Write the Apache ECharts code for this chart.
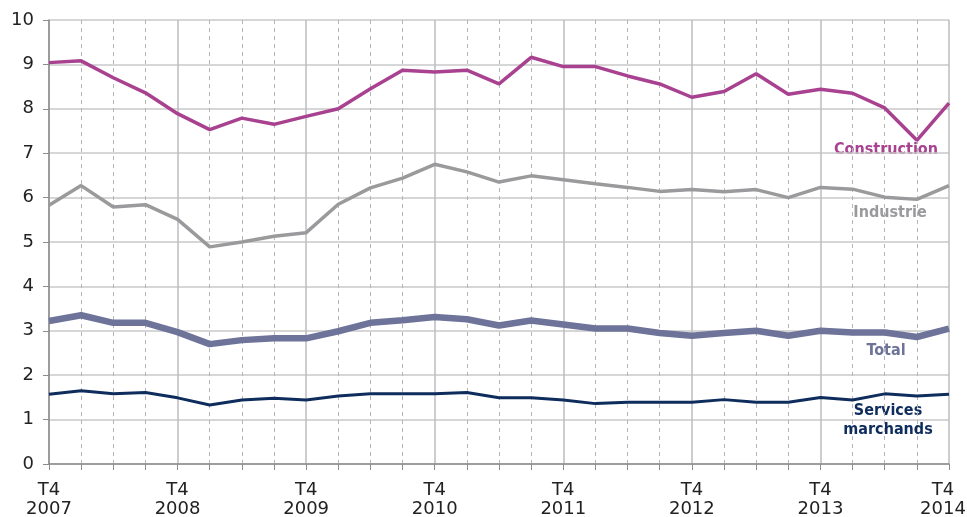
<!DOCTYPE html>
<html><head><meta charset="utf-8">
<script src="https://cdn.jsdelivr.net/npm/echarts@6/dist/echarts.min.js"></script>
<style>html,body{margin:0;padding:0;background:#fff}#c{width:967px;height:517px}</style>
</head><body><div id="c"></div>
<script>
const categories = [
 'T4 2007','T1 2008','T2 2008','T3 2008','T4 2008','T1 2009','T2 2009','T3 2009','T4 2009',
 'T1 2010','T2 2010','T3 2010','T4 2010','T1 2011','T2 2011','T3 2011','T4 2011',
 'T1 2012','T2 2012','T3 2012','T4 2012','T1 2013','T2 2013','T3 2013','T4 2013',
 'T1 2014','T2 2014','T3 2014','T4 2014'];
const construction = [9.04,9.08,8.70,8.36,7.89,7.53,7.79,7.65,7.83,8.00,8.45,8.87,8.83,8.87,8.56,9.16,8.95,8.95,8.74,8.56,8.26,8.39,8.79,8.33,8.44,8.35,8.02,7.29,8.13];
const industrie = [5.83,6.27,5.79,5.84,5.51,4.89,5.00,5.13,5.21,5.85,6.22,6.44,6.75,6.58,6.35,6.49,6.40,6.31,6.23,6.14,6.18,6.13,6.18,6.00,6.23,6.19,6.01,5.96,6.27];
const total = [3.22,3.35,3.18,3.18,2.97,2.70,2.79,2.83,2.83,2.99,3.18,3.24,3.31,3.26,3.12,3.23,3.14,3.05,3.05,2.95,2.89,2.95,3.00,2.89,3.00,2.96,2.96,2.86,3.05];
const services = [1.57,1.65,1.58,1.61,1.49,1.33,1.44,1.48,1.44,1.53,1.58,1.58,1.58,1.61,1.49,1.49,1.44,1.36,1.39,1.39,1.39,1.45,1.39,1.39,1.50,1.44,1.58,1.53,1.57];
const yTicks = [0,1,2,3,4,5,6,7,8,9,10];

const chart = echarts.init(document.getElementById('c'));
const lblFont = '"DejaVu Sans Condensed", "DejaVu Sans", sans-serif';
const axFont = '"DejaVu Sans", Verdana, sans-serif';
chart.setOption({
  animation:false,
  grid:{left:49,right:18,top:20,bottom:53,containLabel:false,outerBoundsMode:'none'},
  xAxis:[{
    type:'category', data:categories, boundaryGap:false,
    axisLine:{lineStyle:{color:'#8c8c8c',width:1.5}},
    axisTick:{show:true,interval:0,length:6,lineStyle:{color:'#8c8c8c'}},
    axisLabel:{interval:0, color:'#222', fontFamily:axFont, fontSize:18, lineHeight:19, margin:17,
      formatter:(v,i)=>{ if(i%4!==0) return ''; const p=v.split(' '); if(i===28) return '{r|'+p[0]+'}\n{r|'+p[1]+'}'; return p[0]+'\n'+p[1]; },
      rich:{r:{fontFamily:axFont,fontSize:18,lineHeight:19,color:'#222',padding:[0,12,0,0]}}},
    splitLine:{show:true, interval:(i)=>i%4!==0, lineStyle:{color:'#b5b5b5',type:[4,4],width:1}}
  },{
    type:'category', data:categories, boundaryGap:false, position:'bottom',
    axisLine:{show:false}, axisTick:{show:false}, axisLabel:{show:false},
    splitLine:{show:true, interval:(i)=>i%4===0, lineStyle:{color:'#bdbdc2',width:1.5}}
  }],
  yAxis:{type:'value',min:0,max:10,interval:1,
    axisLine:{show:true,lineStyle:{color:'#8c8c8c',width:1.5}},
    axisTick:{show:true,length:6,lineStyle:{color:'#8c8c8c'}},
    axisLabel:{color:'#222',fontFamily:axFont,fontSize:18,margin:15,
      formatter:(v)=>yTicks.includes(v)?String(v):''},
    splitLine:{lineStyle:{color:'#c8c8c8',width:1.5}}
  },
  series:[
    {name:'Industrie',type:'line',data:industrie,symbol:'none',lineStyle:{color:'#9a9a9c',width:3.5},z:3},
    {name:'Construction',type:'line',data:construction,symbol:'none',lineStyle:{color:'#a8418f',width:3.5},z:3},
    {name:'Services marchands',type:'line',data:services,symbol:'none',lineStyle:{color:'#0e2d5d',width:3},z:3},
    {name:'Total',type:'line',data:total,symbol:'none',lineStyle:{color:'#6d7399',width:6.5},z:3}
  ],
  graphic:[
    {type:'text',x:886,y:150,style:{text:'Construction',font:'bold 16px '+lblFont,fill:'#a8418f',textAlign:'center',textVerticalAlign:'middle'}},
    {type:'text',x:890,y:213,style:{text:'Industrie',font:'bold 16px '+lblFont,fill:'#9a9a9c',textAlign:'center',textVerticalAlign:'middle'}},
    {type:'text',x:886,y:351,style:{text:'Total',font:'bold 16px '+lblFont,fill:'#6d7399',textAlign:'center',textVerticalAlign:'middle'}},
    {type:'text',x:888,y:420,style:{text:'Services\nmarchands',font:'bold 16px '+lblFont,fill:'#0e2d5d',textAlign:'center',textVerticalAlign:'middle',lineHeight:19}}
  ]
});
</script></body></html>
